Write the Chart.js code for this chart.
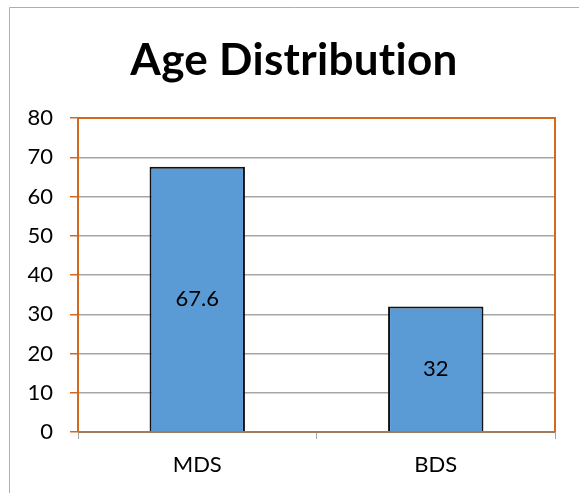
<!DOCTYPE html>
<html>
<head>
<meta charset="utf-8">
<script src="https://cdn.jsdelivr.net/npm/chart.js@4/dist/chart.umd.min.js"></script>
<style>
  html, body { margin: 0; padding: 0; background: #fff; }
  #wrap { width: 579px; height: 493px; position: relative; }
</style>
</head>
<body>
<div id="wrap"><canvas id="c" width="579" height="493"></canvas></div>
<script>
const categories = ['MDS', 'BDS'];
const ageValues = [67.6, 32];
const yTicks = [0, 10, 20, 30, 40, 50, 60, 70, 80];
const chartTitle = 'Age Distribution';

const FONT = 'Lato, "Open Sans", sans-serif';
const ORANGE = '#D2691E';

// Outer frame, title, plot-area border and value labels centred in each bar
const decorations = {
  id: 'decorations',
  beforeDraw(chart) {
    const ctx = chart.ctx;
    ctx.save();
    ctx.strokeStyle = '#DCA277';
    ctx.lineWidth = 1;
    ctx.beginPath();
    ctx.moveTo(9.5, 600);
    ctx.lineTo(9.5, 7.5);
    ctx.lineTo(600, 7.5);
    ctx.stroke();

    ctx.fillStyle = '#000';
    ctx.font = 'bold 44px ' + FONT;
    if ('letterSpacing' in ctx) ctx.letterSpacing = '0.3px';
    ctx.textAlign = 'center';
    ctx.textBaseline = 'alphabetic';
    ctx.fillText(chartTitle, 294, 75);
    ctx.restore();
  },
  afterDatasetsDraw(chart) {
    const ctx = chart.ctx;
    const a = chart.chartArea;
    ctx.save();
    ctx.strokeStyle = ORANGE;
    ctx.lineWidth = 2;
    ctx.beginPath();
    ctx.moveTo(a.left, a.top);
    ctx.lineTo(a.right, a.top);
    ctx.lineTo(a.right, a.bottom);
    ctx.stroke();
    ctx.strokeStyle = '#A47A5C';
    ctx.beginPath();
    ctx.moveTo(a.left, a.bottom);
    ctx.lineTo(a.right, a.bottom);
    ctx.stroke();

    const meta = chart.getDatasetMeta(0);
    ctx.fillStyle = '#000';
    ctx.font = '22px ' + FONT;
    ctx.textAlign = 'center';
    ctx.textBaseline = 'middle';
    meta.data.forEach((bar, i) => {
      const y = (bar.y + bar.base) / 2;
      ctx.fillText(String(ageValues[i]), bar.x, y);
    });
    ctx.restore();
  }
};

new Chart(document.getElementById('c'), {
  type: 'bar',
  data: {
    labels: categories,
    datasets: [{
      data: ageValues,
      backgroundColor: '#5B9BD5',
      borderColor: '#111',
      borderWidth: 2,
      barPercentage: 0.4,
      categoryPercentage: 1
    }]
  },
  options: {
    responsive: false,
    animation: false,
    layout: { padding: { left: 0, right: 24, top: 118, bottom: 0 } },
    plugins: {
      legend: { display: false },
      tooltip: { enabled: false },
      title: { display: false }
    },
    scales: {
      x: {
        afterFit(scale) { scale.height = 61; },
        grid: {
          offset: true,
          drawOnChartArea: false,
          tickLength: 7,
          tickColor: '#A6A6A6',
          lineWidth: 1
        },
        border: { display: false },
        ticks: {
          color: '#000',
          padding: 13,
          font: { family: FONT, size: 22 }
        }
      },
      y: {
        min: 0,
        max: 80,
        afterFit(scale) { scale.width = 78; },
        afterBuildTicks(scale) { scale.ticks = yTicks.map(v => ({ value: v })); },
        grid: {
          color: '#A6A6A6',
          lineWidth: 1.5,
          tickLength: 8,
          tickColor: ORANGE
        },
        border: { display: true, color: ORANGE, width: 2 },
        ticks: {
          color: '#000',
          padding: 17,
          font: { family: FONT, size: 22 }
        }
      }
    }
  },
  plugins: [decorations]
});
</script>
</body>
</html>
